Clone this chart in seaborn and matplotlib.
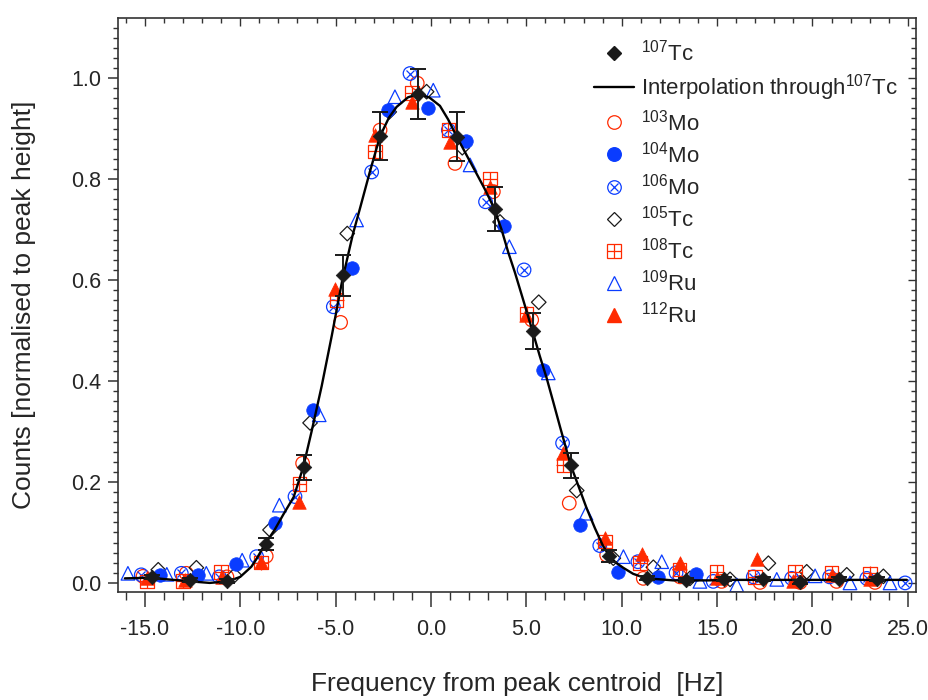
import numpy as np
import pandas as pd
import matplotlib
matplotlib.use("Agg")
import matplotlib.pyplot as plt
import seaborn as sns
from matplotlib.ticker import MultipleLocator, FormatStrFormatter
from matplotlib.lines import Line2D

# ---------------- data ----------------
tc107_x = [-14.65, -12.64, -10.71, -8.67, -6.66, -4.62, -2.67, -0.67, 1.35, 3.35,
           5.35, 7.34, 9.35, 11.34, 13.37, 15.36, 17.39, 19.35, 21.38, 23.41]
tc107_y = [0.012, 0.005, 0.003, 0.077, 0.229, 0.609, 0.885, 0.968, 0.884, 0.741,
           0.499, 0.233, 0.054, 0.010, 0.005, 0.008, 0.007, 0.002, 0.007, 0.007]
tc107_err = [0.004, 0.004, 0.004, 0.012, 0.025, 0.040, 0.047, 0.050, 0.048, 0.043,
             0.035, 0.025, 0.012, 0.004, 0.004, 0.004, 0.004, 0.004, 0.004, 0.004]

curve_x = [-16.05, -15.0, -14.65, -13.5, -12.6, -11.6, -10.65, -10.0, -9.42, -9.14,
           -8.7, -8.2, -7.75, -7.2, -6.7, -6.26, -5.73, -5.2, -4.65, -4.1,
           -3.7, -3.2, -2.67, -2.2, -1.8, -1.2, -0.67, -0.1, 0.47, 0.9,
           1.35, 1.9, 2.4, 2.85, 3.3, 3.7, 4.05, 4.4, 4.8, 5.33,
           5.7, 6.07, 6.4, 6.76, 7.33, 7.75, 8.16, 8.6, 9.0, 9.35,
           9.7, 10.08, 10.6, 11.13, 11.7, 12.7, 13.4, 14.5, 16.0, 18.0,
           20.0, 22.0, 24.0, 24.95]
curve_y = [0.009, 0.010, 0.010, 0.006, 0.003, 0.000, 0.003, 0.012, 0.032, 0.048,
           0.077, 0.105, 0.135, 0.170, 0.229, 0.300, 0.390, 0.490, 0.600, 0.690,
           0.745, 0.815, 0.885, 0.922, 0.943, 0.962, 0.968, 0.962, 0.945, 0.918,
           0.884, 0.845, 0.810, 0.778, 0.743, 0.700, 0.655, 0.615, 0.565, 0.498,
           0.450, 0.405, 0.360, 0.310, 0.233, 0.190, 0.148, 0.108, 0.075, 0.053,
           0.040, 0.030, 0.018, 0.011, 0.008, 0.005, 0.005, 0.005, 0.006, 0.006,
           0.006, 0.006, 0.006, 0.006]

mo103_x = [-15.1, -12.83, -10.7, -8.64, -6.73, -4.74, -2.67, -0.72, 1.26, 3.27,
           5.28, 7.25, 9.21, 11.13, 13.06, 15.24, 17.25, 19.35, 21.27, 23.28]
mo103_y = [0.013, 0.019, 0.012, 0.053, 0.237, 0.516, 0.897, 0.990, 0.831, 0.775,
           0.521, 0.158, 0.055, 0.009, 0.012, 0.003, 0.001, 0.001, 0.003, 0.001]

mo104_x = [-14.2, -12.2, -10.2, -8.18, -6.17, -4.16, -2.24, -0.14, 1.85, 3.83,
           5.86, 7.81, 9.82, 11.92, 13.9]
mo104_y = [0.016, 0.016, 0.037, 0.119, 0.342, 0.623, 0.937, 0.940, 0.876, 0.706,
           0.422, 0.115, 0.022, 0.012, 0.018]

mo106_x = [-15.19, -13.09, -11.1, -9.14, -7.13, -5.12, -3.11, -1.1, 0.91, 2.86,
           4.88, 6.9, 8.85, 10.85, 12.85, 14.8, 16.9, 18.91, 20.9, 22.85, 24.86]
mo106_y = [0.016, 0.019, 0.012, 0.052, 0.171, 0.547, 0.814, 1.009, 0.897, 0.755,
           0.620, 0.277, 0.074, 0.042, 0.020, 0.003, 0.012, 0.009, 0.012, 0.009, 0.000]

tc105_x = [-14.3, -12.3, -10.3, -8.44, -6.34, -4.39, -2.19, -0.23, 1.64, 3.62,
           5.65, 7.64, 9.56, 11.66, 13.58, 15.68, 17.69, 19.7, 21.8, 23.72]
tc105_y = [0.026, 0.030, 0.015, 0.105, 0.317, 0.692, 0.933, 0.973, 0.862, 0.715,
           0.556, 0.183, 0.049, 0.031, 0.009, 0.007, 0.039, 0.022, 0.016, 0.013]

tc108_x = [-14.9, -13.0, -11.0, -8.9, -6.9, -4.95, -2.94, -1.0, 0.91, 3.09,
           5.02, 6.94, 9.12, 10.96, 13.02, 14.98, 17.0, 19.09, 21.0, 23.02]
tc108_y = [0.003, 0.004, 0.022, 0.040, 0.196, 0.560, 0.855, 0.970, 0.897, 0.801,
           0.534, 0.234, 0.082, 0.039, 0.027, 0.022, 0.012, 0.022, 0.020, 0.019]

ru109_x = [-15.89, -13.85, -11.78, -9.9, -7.95, -5.86, -3.9, -1.89, 0.12, 2.05,
           4.11, 6.15, 8.13, 10.09, 12.1, 14.1, 16.03, 18.13, 20.14, 21.97, 24.07]
ru109_y = [0.019, 0.017, 0.019, 0.045, 0.154, 0.333, 0.719, 0.963, 0.976, 0.828,
           0.666, 0.416, 0.138, 0.052, 0.042, 0.003, -0.004, 0.007, 0.014, 0.000, 0.000]

ru112_x = [-14.9, -12.9, -10.95, -8.9, -6.9, -5.03, -2.94, -1.01, 1.0, 3.09,
           5.0, 6.94, 9.1, 11.05, 13.06, 15.0, 17.08, 19.0, 21.0, 23.0]
ru112_y = [0.010, 0.006, 0.012, 0.042, 0.161, 0.583, 0.887, 0.953, 0.874, 0.785,
           0.530, 0.257, 0.088, 0.057, 0.040, 0.010, 0.048, 0.003, 0.016, 0.008]

x_ticks = [-15.0, -10.0, -5.0, 0.0, 5.0, 10.0, 15.0, 20.0, 25.0]
y_ticks = [0.0, 0.2, 0.4, 0.6, 0.8, 1.0]

# ---------------- style ----------------
sns.set_theme(style="white")
plt.rcParams["font.family"] = ["Liberation Sans", "DejaVu Sans"]
plt.rcParams["mathtext.fontset"] = "custom"
plt.rcParams["mathtext.rm"] = "Liberation Sans"
plt.rcParams["mathtext.it"] = "Liberation Sans:italic"
plt.rcParams["mathtext.bf"] = "Liberation Sans:bold"

RED = "#ff2a00"
BLUE = "#0a3cff"
BLACK = "#1a1a1a"
AXC = "#333333"

fig = plt.figure(figsize=(9.29, 7.0), dpi=100)
ax = fig.add_axes([118 / 929, 1 - 592 / 700, (916 - 118) / 929, (592 - 18) / 700])

S_CIRC = 95
S_SQ = 95
S_TRI = 95
S_DIA = 55
LW_OPEN = 0.9

def scat(x, y, **kw):
    sns.scatterplot(x=x, y=y, ax=ax, legend=False, **kw)

scat(mo103_x, mo103_y, marker="o", s=S_CIRC, facecolor="none", edgecolor=RED,
     linewidth=LW_OPEN, zorder=2)
scat(mo106_x, mo106_y, marker="o", s=S_CIRC, facecolor="none", edgecolor=BLUE,
     linewidth=LW_OPEN, zorder=2)
scat(mo106_x, mo106_y, marker="x", s=S_CIRC * 0.35, color=BLUE,
     linewidth=LW_OPEN, zorder=2)
scat(tc105_x, tc105_y, marker="D", s=S_DIA, facecolor="none", edgecolor=BLACK,
     linewidth=LW_OPEN, zorder=2)
scat(tc108_x, tc108_y, marker="s", s=S_SQ, facecolor="none", edgecolor=RED,
     linewidth=LW_OPEN, zorder=2)
scat(tc108_x, tc108_y, marker="+", s=S_SQ, color=RED,
     linewidth=LW_OPEN, zorder=2)
scat(ru109_x, ru109_y, marker="^", s=S_TRI, facecolor="none", edgecolor=BLUE,
     linewidth=LW_OPEN, zorder=2)
scat(mo104_x, mo104_y, marker="o", s=S_CIRC, color=BLUE, edgecolor=BLUE,
     linewidth=0.5, zorder=2)
scat(ru112_x, ru112_y, marker="^", s=S_TRI, color=RED, edgecolor=RED,
     linewidth=0.5, zorder=2)

curve_df = pd.DataFrame({"x": curve_x, "y": curve_y})
sns.lineplot(data=curve_df, x="x", y="y", ax=ax, sort=False, estimator=None,
             color="black", linewidth=1.7, zorder=3)

ax.errorbar(tc107_x, tc107_y, yerr=tc107_err, fmt="none", ecolor=BLACK,
            elinewidth=1.4, capsize=5.5, capthick=1.4, zorder=4)
scat(tc107_x, tc107_y, marker="D", s=S_DIA, color=BLACK, edgecolor=BLACK,
     linewidth=0.5, zorder=5)

# ---------------- axes ----------------
ax.set_xlim(-16.41, 25.43)
ax.set_ylim(-0.018, 1.119)
ax.set_xticks(x_ticks)
ax.set_yticks(y_ticks)
ax.xaxis.set_major_formatter(FormatStrFormatter("%.1f"))
ax.yaxis.set_major_formatter(FormatStrFormatter("%.1f"))
ax.xaxis.set_minor_locator(MultipleLocator(1.0))
ax.yaxis.set_minor_locator(MultipleLocator(0.02))
ax.tick_params(axis="x", which="major", direction="out", length=10.5, width=1.1,
               color=AXC, labelsize=15.5, pad=9, bottom=True, top=False)
ax.tick_params(axis="x", which="minor", direction="out", length=5.5, width=1.0,
               color=AXC, bottom=True, top=False)
ax.tick_params(axis="y", which="major", direction="out", length=7, width=1.1,
               color=AXC, labelsize=15.5, pad=5, left=True, right=False)
ax.tick_params(axis="y", which="minor", direction="out", length=3.5, width=1.0,
               color=AXC, left=True, right=False)
for sp in ax.spines.values():
    sp.set_color(AXC)
    sp.set_linewidth(1.2)

secx = ax.secondary_xaxis("top")
secx.set_xticks(x_ticks)
secx.xaxis.set_minor_locator(MultipleLocator(1.0))
secx.tick_params(axis="x", which="major", direction="in", length=6, width=1.0,
                 color=AXC, labeltop=False)
secx.tick_params(axis="x", which="minor", direction="in", length=3.5, width=1.0,
                 color=AXC)
secx.spines["top"].set_visible(False)

secy = ax.secondary_yaxis("right")
secy.set_yticks(y_ticks)
secy.yaxis.set_minor_locator(MultipleLocator(0.02))
secy.tick_params(axis="y", which="major", direction="in", length=6, width=1.0,
                 color=AXC, labelright=False)
secy.tick_params(axis="y", which="minor", direction="in", length=3.5, width=1.0,
                 color=AXC)
secy.spines["right"].set_visible(False)

ax.set_xlabel("Frequency from peak centroid  [Hz]", fontsize=19, labelpad=23)
ax.set_ylabel("Counts [normalised to peak height]", fontsize=19, labelpad=25)

# ---------------- legend ----------------
ms_c = np.sqrt(S_CIRC)
ms_s = np.sqrt(S_SQ)
ms_t = np.sqrt(S_TRI)
ms_d = np.sqrt(S_DIA)
h_tc107 = Line2D([], [], ls="none", marker="D", ms=ms_d, color=BLACK, mec=BLACK)
h_line = Line2D([], [], color="black", lw=1.7)
h_mo103 = Line2D([], [], ls="none", marker="o", ms=ms_c, mfc="none", mec=RED, mew=LW_OPEN)
h_mo104 = Line2D([], [], ls="none", marker="o", ms=ms_c, color=BLUE)
h_mo106 = (Line2D([], [], ls="none", marker="o", ms=ms_c, mfc="none", mec=BLUE, mew=LW_OPEN),
           Line2D([], [], ls="none", marker="x", ms=ms_c * 0.6, color=BLUE, mew=LW_OPEN))
h_tc105 = Line2D([], [], ls="none", marker="D", ms=ms_d, mfc="none", mec=BLACK, mew=LW_OPEN)
h_tc108 = (Line2D([], [], ls="none", marker="s", ms=ms_s, mfc="none", mec=RED, mew=LW_OPEN),
           Line2D([], [], ls="none", marker="+", ms=ms_s, color=RED, mew=LW_OPEN))
h_ru109 = Line2D([], [], ls="none", marker="^", ms=ms_t, mfc="none", mec=BLUE, mew=LW_OPEN)
h_ru112 = Line2D([], [], ls="none", marker="^", ms=ms_t, color=RED)

handles = [h_tc107, h_line, h_mo103, h_mo104, h_mo106, h_tc105, h_tc108, h_ru109, h_ru112]
labels = [r"$^{107}$Tc", r"Interpolation through$^{107}$Tc", r"$^{103}$Mo", r"$^{104}$Mo",
          r"$^{106}$Mo", r"$^{105}$Tc", r"$^{108}$Tc", r"$^{109}$Ru", r"$^{112}$Ru"]
leg = fig.legend(handles, labels, loc="upper left",
                 bbox_to_anchor=(594 / 929, 1 - 40 / 700),
                 frameon=False, fontsize=16, handlelength=1.8,
                 handletextpad=0.3, labelspacing=0.28, borderpad=0, borderaxespad=0)

fig.savefig("out.png", dpi=100)
